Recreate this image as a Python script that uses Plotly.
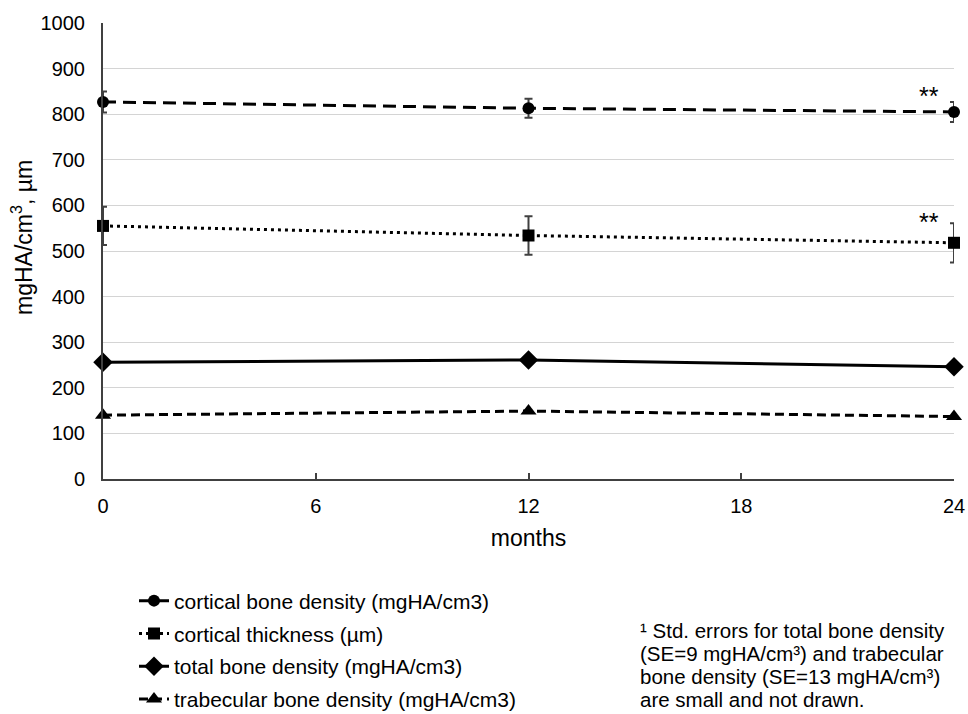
import plotly.graph_objects as go

months = [0, 12, 24]
cortical_density = [827, 813, 805]
cortical_density_se = [23, 21, 22]
cortical_thickness = [555, 534, 518]
cortical_thickness_se = [42, 42, 43]
total_density = [256, 261, 246]
trabecular_density = [140, 149, 137]
x_ticks = [0, 6, 12, 18, 24]
y_ticks = [0, 100, 200, 300, 400, 500, 600, 700, 800, 900, 1000]
footnote_lines = [
    "¹ Std. errors for total bone density",
    "(SE=9 mgHA/cm³) and trabecular",
    "bone density (SE=13 mgHA/cm³)",
    "are small and not drawn.",
]

FONT = "Liberation Sans, Arial, sans-serif"
err_style = dict(type="data", color="#404040", thickness=2, width=4)

fig = go.Figure()
fig.add_trace(go.Scatter(
    x=months, y=cortical_density, name="cortical bone density (mgHA/cm3)",
    mode="lines+markers", legendgroup="a",
    line=dict(color="black", width=3, dash="13px,7px"),
    marker=dict(symbol="circle", size=12, color="black"),
    error_y=dict(array=cortical_density_se, **err_style), cliponaxis=False))
fig.add_trace(go.Scatter(
    x=months, y=cortical_thickness, name="cortical thickness (µm)",
    mode="lines+markers", legendgroup="b",
    line=dict(color="black", width=3, dash="3px,4px"),
    marker=dict(symbol="square", size=12, color="black"),
    error_y=dict(array=cortical_thickness_se, **err_style), cliponaxis=False))
fig.add_trace(go.Scatter(
    x=months, y=total_density, name="total bone density (mgHA/cm3)",
    mode="lines+markers", legendgroup="c",
    line=dict(color="black", width=3),
    marker=dict(symbol="diamond", size=15, color="black"),
    cliponaxis=False))
fig.add_trace(go.Scatter(
    x=months, y=trabecular_density, name="trabecular bone density (mgHA/cm3)",
    mode="lines+markers", legendgroup="d",
    line=dict(color="black", width=3, dash="9px,5px"),
    marker=dict(symbol="triangle-up", size=14, color="black"),
    cliponaxis=False))

fig.add_annotation(x=23.3, y=841, text="**", showarrow=False,
                   font=dict(family=FONT, size=25, color="black"))
fig.add_annotation(x=23.3, y=563, text="**", showarrow=False,
                   font=dict(family=FONT, size=25, color="black"))

# y-axis title placed as rotated text
fig.add_annotation(xref="paper", yref="paper", x=(22 - 103) / 851,
                   y=(479 - 238) / 456, xanchor="center", yanchor="middle",
                   textangle=-90, showarrow=False,
                   text="mgHA/cm<sup>3</sup>, µm",
                   font=dict(family=FONT, size=23, color="black"))

foot_y = [630, 653, 676, 699]
for line, py in zip(footnote_lines, foot_y):
    fig.add_annotation(
        xref="paper", yref="paper", x=(638 - 103) / 851, y=(479 - py) / 456,
        xanchor="left", yanchor="middle", align="left", showarrow=False,
        text=line, font=dict(family=FONT, size=20.5, color="black"))

fig.update_layout(
    width=968, height=714,
    margin=dict(l=103, r=14, t=23, b=235),
    paper_bgcolor="white", plot_bgcolor="white",
    font=dict(family=FONT, size=20, color="black"),
    showlegend=True,
    legend=dict(x=(134 - 103) / 851, y=0.187, yref="container",
                xanchor="left", yanchor="top",
                font=dict(family=FONT, size=21, color="black"),
                tracegroupgap=2.5, itemwidth=30, bgcolor="rgba(0,0,0,0)"),
    xaxis=dict(range=[0, 24], tickvals=x_ticks, showgrid=False,
               showline=True, linecolor="#404040", linewidth=2,
               ticks="inside", ticklen=6, tickcolor="#404040", tickwidth=1.5,
               zeroline=False, automargin=False, ticklabelstandoff=8,
               tickfont=dict(size=20),
               title=dict(text="months", standoff=14, font=dict(size=23))),
    yaxis=dict(range=[0, 1000], tickvals=y_ticks, showgrid=True,
               gridcolor="#d4d4d4", gridwidth=1,
               showline=True, linecolor="#404040", linewidth=2,
               zeroline=False, ticks="", ticklabelstandoff=12,
               automargin=False, tickfont=dict(size=20)),
)

fig.write_html("out.html")
